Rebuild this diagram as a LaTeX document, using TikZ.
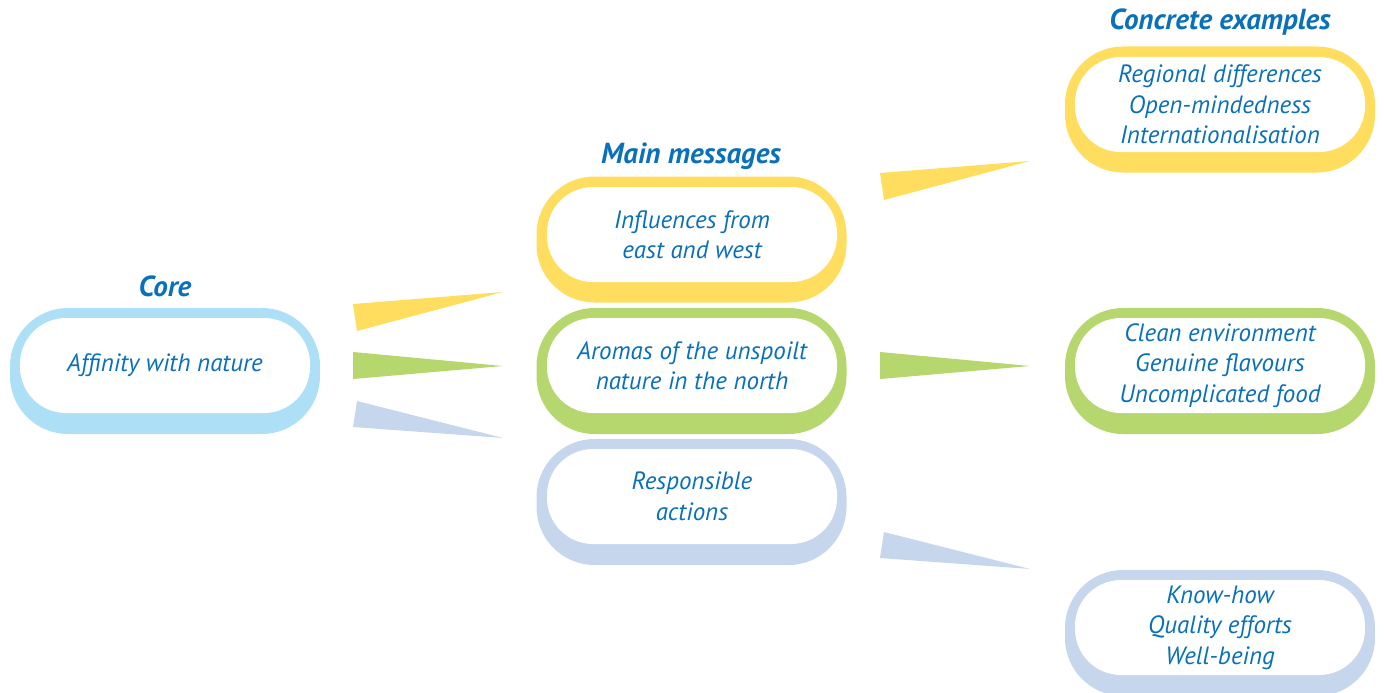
\documentclass[tikz,border=0pt]{standalone}
\usepackage{fontspec}
\setmainfont{PT Sans}
\definecolor{txtblue}{RGB}{10,112,185}
\definecolor{yel}{RGB}{255,221,95}
\definecolor{grn}{RGB}{182,214,110}
\definecolor{sky}{RGB}{173,224,246}
\definecolor{lav}{RGB}{198,214,236}
\begin{document}
\begin{tikzpicture}[x=1pt,y=-1pt,
  outerbox/.style={draw=none, rounded corners=58pt, minimum width=310pt, minimum height=126pt, inner sep=0pt},
  innerbox/.style={fill=white, draw=none, rounded corners=46pt, minimum width=290pt, minimum height=95pt, inner sep=0pt, align=center, text=txtblue, font=\fontsize{25}{30.5}\selectfont\itshape},
  heading/.style={text=txtblue, font=\fontsize{29}{32}\selectfont\bfseries\itshape, inner sep=0pt},
  wedge/.style={draw=none}]
\useasboundingbox (0,0) rectangle (1384,693);
% headings
\node[heading] (hcore) at (165,286) {Core};
\node[heading] (hmain) at (691,156) {Main messages};
\node[heading] (hconc) at (1220,22) {Concrete examples};
% core
\node[outerbox, fill=sky] (coreo) at (165,371) {};
\node[innerbox] (core) at (165,365.5) {Affinity with nature};
% main messages
\node[outerbox, fill=yel] (m1o) at (691.5,239.5) {};
\node[innerbox] (m1) at (692,234.5) {Influences from\\east and west};
\node[outerbox, fill=grn] (m2o) at (691.5,371) {};
\node[innerbox] (m2) at (692,365.5) {Aromas of the unspoilt\\nature in the north};
\node[outerbox, fill=lav] (m3o) at (691.5,502) {};
\node[innerbox] (m3) at (692,496.5) {Responsible\\actions};
% concrete examples
\node[outerbox, fill=yel] (c1o) at (1220,109.5) {};
\node[innerbox] (c1) at (1220,104.5) {Regional differences\\Open-mindedness\\Internationalisation};
\node[outerbox, fill=grn] (c2o) at (1220,371) {};
\node[innerbox] (c2) at (1220,365.5) {Clean environment\\Genuine flavours\\Uncomplicated food};
\node[outerbox, fill=lav] (c3o) at (1220,633) {};
\node[innerbox] (c3) at (1220,627.5) {Know-how\\Quality efforts\\Well-being};
% wedges left
\fill[yel] (353,304) -- (357,331) -- (503,292) -- cycle;
\fill[grn] (353,352) -- (353,379) -- (503,366) -- cycle;
\fill[lav] (357,401) -- (353,427) -- (503,438) -- cycle;
% wedges right
\fill[yel] (880,173) -- (884,200) -- (1030,161) -- cycle;
\fill[grn] (880,352) -- (880,379) -- (1030,366) -- cycle;
\fill[lav] (884,532) -- (880,558) -- (1030,569) -- cycle;
\end{tikzpicture}
\end{document}
